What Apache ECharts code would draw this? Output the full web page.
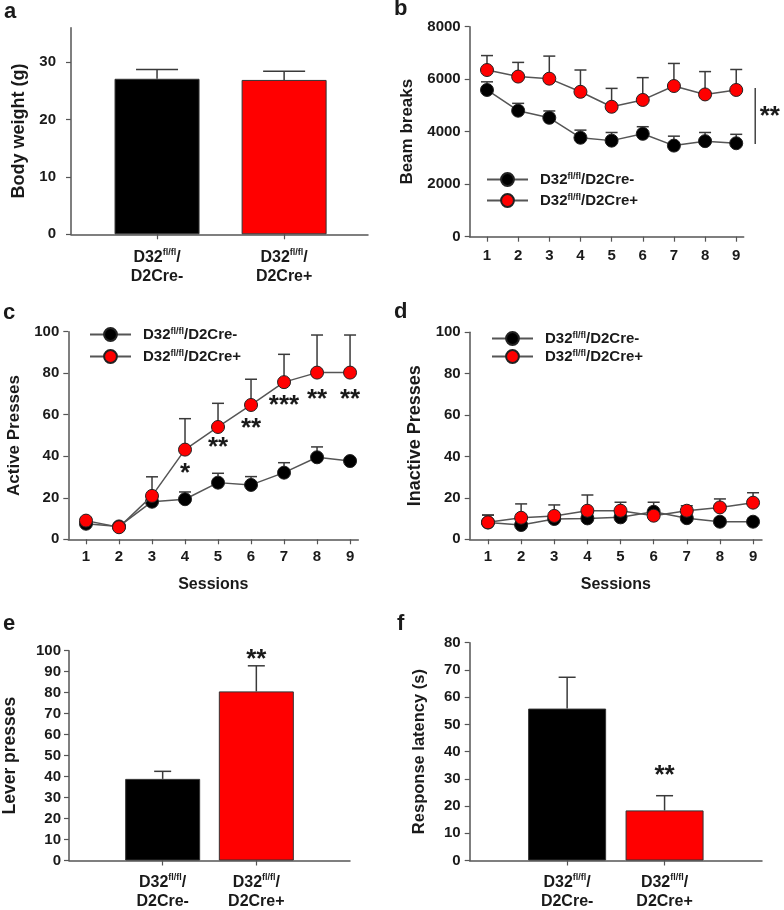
<!DOCTYPE html>
<html>
<head>
<meta charset="utf-8">
<script src="https://cdn.jsdelivr.net/npm/echarts@6/dist/echarts.min.js"></script>
<style>
  html, body { margin: 0; padding: 0; background: #fff; }
  #chart { width: 784px; height: 910px; }
</style>
</head>
<body>
<div id="chart"></div>
<script>
var dom = document.getElementById("chart");
var chart = echarts.init(dom);

// ---- data ----
var groupNames = ['D32fl/fl/D2Cre-', 'D32fl/fl/D2Cre+'];
var sessions = [1, 2, 3, 4, 5, 6, 7, 8, 9];
var barPositions = [1, 2];

// a: body weight (g)
var weightMean = [27.1, 26.9];
var weightSem = [1.6, 1.5];
var weightTicks = [0, 10, 20, 30];

// b: beam breaks
var beamNeg = [5590, 4800, 4530, 3770, 3660, 3920, 3470, 3640, 3560];
var beamNegSem = [310, 280, 260, 290, 310, 270, 360, 330, 340];
var beamPos = [6350, 6100, 6020, 5520, 4950, 5210, 5740, 5420, 5590];
var beamPosSem = [550, 540, 860, 830, 700, 850, 860, 870, 780];
var beamSigLine = [9.61, 3530, 5665];
var beamSigText = [10.08, 4700];

// c: active presses
var activeNeg = [7.5, 6.2, 18.1, 19.3, 27.3, 26.2, 32.1, 39.5, 37.7];
var activeNegSem = [1.2, 1.0, 1.5, 3.5, 4.5, 4.0, 4.8, 5.0, 1.2];
var activePos = [9.0, 5.8, 20.9, 43.2, 54.1, 64.7, 75.7, 80.3, 80.3];
var activePosSem = [1.0, 1.0, 9.2, 14.9, 11.4, 12.4, 13.4, 18.1, 18.1];
var starSessions = [4, 5, 6, 7, 8, 9];
var starHeights = [33.4, 45.9, 55.1, 66.3, 69.2, 69.2];
var starLabels = ['*', '**', '**', '***', '**', '**'];

// d: inactive presses
var inactiveNeg = [8.1, 6.9, 9.8, 10.1, 10.6, 13.3, 10.2, 8.5, 8.5];
var inactiveNegSem = [3.6, 1.5, 2.0, 2.0, 2.0, 4.6, 2.0, 1.5, 1.5];
var inactivePos = [8.2, 10.4, 11.3, 13.8, 13.8, 11.4, 13.8, 15.4, 17.7];
var inactivePosSem = [3.5, 6.7, 5.3, 7.6, 4.1, 2.0, 2.4, 4.1, 4.8];

// e: lever presses
var leverMean = [38.9, 80.6];
var leverSem = [3.6, 12.2];
var leverStar = [2, 97.5];

// f: response latency (s)
var latencyMean = [55.8, 18.4];
var latencySem = [11.5, 5.4];
var latencyStar = [2, 32.7];

var font = 'Liberation Sans, Arial, Helvetica, sans-serif';
var ink = '#1a1a1a';
var axisGrey = '#555';
var barColors = ['#000000', '#ff0000'];

var richText = {
  m: { fontSize: 16, fontWeight: 'bold', fontFamily: font, color: ink, lineHeight: 19 },
  s: { fontSize: 9, fontWeight: 'bold', fontFamily: font, color: ink, verticalAlign: 'top', lineHeight: 19 }
};
var legendRich = {
  m: { fontSize: 15, fontWeight: 'bold', fontFamily: font, color: ink },
  s: { fontSize: 9, fontWeight: 'bold', fontFamily: font, color: ink, verticalAlign: 'top', padding: [0, 0, 4, 0] }
};

function groupLabel(name) {
  return '{m|D32}{s|fl/fl}{m|' + name.replace('D32fl/fl', '') + '}';
}
function barLabel(i) {
  var tail = groupNames[i].replace('D32fl/fl/', '');
  return '{m|D32}{s|fl/fl}{m|/}\n{m|' + tail + '}';
}

function pairs(xs, ys) {
  return xs.map(function (x, i) { return [x, ys[i]]; });
}
function triples(xs, ys, es) {
  return xs.map(function (x, i) { return [x, ys[i], es[i]]; });
}

function yAxis(idx, min, max, interval, name, nameSize, gap, margin, ticks) {
  var ax = {
    type: 'value', gridIndex: idx, min: min, max: max, interval: interval,
    name: name, nameLocation: 'middle', nameGap: gap,
    nameTextStyle: { fontFamily: font, fontWeight: 'bold', fontSize: nameSize, color: ink },
    axisLine: { show: true, lineStyle: { color: axisGrey, width: 1.5 } },
    axisTick: { show: true, length: 5, lineStyle: { color: axisGrey, width: 1.2 } },
    axisLabel: {
      fontFamily: font, fontWeight: 'bold', fontSize: 15, color: ink, margin: margin,
      formatter: function (v) { return String(v); }
    },
    splitLine: { show: false }
  };
  if (ticks) {
    ax.axisTick.customValues = ticks;
    ax.axisLabel.customValues = ticks;
  }
  return ax;
}

function sessionAxis(idx, min, max, margin, withName) {
  return {
    type: 'value', gridIndex: idx, min: min, max: max,
    name: withName ? 'Sessions' : '', nameLocation: 'middle', nameGap: 37,
    nameTextStyle: { fontFamily: font, fontWeight: 'bold', fontSize: 16, color: ink },
    axisLine: { show: true, onZero: false, lineStyle: { color: axisGrey, width: 1.5 } },
    axisTick: { show: true, length: 5, customValues: sessions, lineStyle: { color: axisGrey, width: 1.2 } },
    axisLabel: { fontFamily: font, fontWeight: 'bold', fontSize: 15, color: ink, margin: margin, customValues: sessions },
    splitLine: { show: false }
  };
}

function groupAxis(idx, min, max, margin) {
  return {
    type: 'value', gridIndex: idx, min: min, max: max,
    axisLine: { show: true, onZero: false, lineStyle: { color: axisGrey, width: 1.5 } },
    axisTick: { show: true, length: 5, customValues: barPositions, lineStyle: { color: axisGrey, width: 1.2 } },
    axisLabel: {
      margin: margin, customValues: barPositions, rich: richText,
      formatter: function (v) { return barLabel(Math.round(v) - 1); }
    },
    splitLine: { show: false }
  };
}

function errorSeries(idx, data, capW, z) {
  return {
    type: 'custom', xAxisIndex: idx, yAxisIndex: idx, z: z, silent: true,
    encode: { x: 0, y: 1 },
    data: data,
    renderItem: function (params, api) {
      var x = api.value(0), m = api.value(1), e = api.value(2);
      var p0 = api.coord([x, m]);
      var p1 = api.coord([x, m + e]);
      var st = { stroke: '#3a3a3a', lineWidth: 1.5 };
      return {
        type: 'group', children: [
          { type: 'line', shape: { x1: p0[0], y1: p0[1], x2: p1[0], y2: p1[1] }, style: st },
          { type: 'line', shape: { x1: p1[0] - capW / 2, y1: p1[1], x2: p1[0] + capW / 2, y2: p1[1] }, style: st }
        ]
      };
    }
  };
}

function lineSeries(idx, name, ys, color, z) {
  return {
    type: 'line', name: name, xAxisIndex: idx, yAxisIndex: idx, z: z,
    data: pairs(sessions, ys),
    symbol: 'circle', symbolSize: 13,
    itemStyle: { color: color, borderColor: '#222', borderWidth: 1 },
    lineStyle: { color: '#555', width: 1.5 },
    emphasis: { disabled: true }
  };
}

function barSeries(idx, ys, width) {
  return {
    type: 'bar', xAxisIndex: idx, yAxisIndex: idx, z: 2,
    barWidth: width,
    data: ys.map(function (v, i) {
      return { value: [barPositions[i], v], itemStyle: { color: barColors[i], borderColor: '#333', borderWidth: 1 } };
    })
  };
}

function starSeries(idx, xs, ys, labels, size) {
  return {
    type: 'custom', xAxisIndex: idx, yAxisIndex: idx, z: 5, silent: true,
    encode: { x: 0, y: 1 },
    data: pairs(xs, ys),
    renderItem: function (params, api) {
      var p = api.coord([api.value(0), api.value(1)]);
      return {
        type: 'text', x: p[0], y: p[1] + size * 0.16,
        style: {
          text: labels[params.dataIndex], fill: ink, align: 'center', verticalAlign: 'middle',
          font: 'bold ' + size + 'px ' + font
        }
      };
    }
  };
}

function legend(left, top, gap) {
  return {
    left: left, top: top, padding: 0, orient: 'vertical', itemWidth: 41, itemHeight: 16, itemGap: gap,
    selectedMode: false, data: groupNames,
    textStyle: { padding: [0, 0, 0, 7], rich: legendRich },
    formatter: function (name) { return groupLabel(name); }
  };
}

function letter(t, x, y) {
  return { type: 'text', left: x, top: y, style: { text: t, font: 'bold 22px ' + font, fill: ink } };
}

var option = {
  animation: false,
  backgroundColor: '#fff',
  grid: [
    { left: 71, top: 27.7, width: 297, height: 206.6 },
    { left: 469.7, top: 26.7, width: 274, height: 210 },
    { left: 68.3, top: 331.7, width: 290, height: 207.6 },
    { left: 469.7, top: 332.3, width: 292.3, height: 207 },
    { left: 68.3, top: 650.7, width: 281.7, height: 211.6 },
    { left: 469.7, top: 642.7, width: 292.3, height: 220 }
  ],
  xAxis: [
    groupAxis(0, 0.323, 2.66, 14),
    sessionAxis(1, 0.445, 9.24, 12, false),
    sessionAxis(2, 0.464, 9.25, 10, true),
    sessionAxis(3, 0.448, 9.27, 10, true),
    groupAxis(4, 0, 3, 13),
    groupAxis(5, 0, 3, 13)
  ],
  yAxis: [
    yAxis(0, 0, 36, 10, 'Body weight (g)', 18, 43, 15, weightTicks),
    yAxis(1, 0, 8000, 2000, 'Beam breaks', 17, 54, 9),
    yAxis(2, 0, 100, 20, 'Active Presses', 17, 45, 9),
    yAxis(3, 0, 100, 20, 'Inactive Presses', 18, 46, 9),
    yAxis(4, 0, 100, 10, 'Lever presses', 17.5, 50, 8),
    yAxis(5, 0, 80, 10, 'Response latency (s)', 16.5, 42, 9)
  ],
  legend: [
    legend(486, 172, 6),
    legend(89, 327, 7),
    legend(491, 331, 3)
  ],
  graphic: [
    letter('a', 4, 1),
    letter('b', 394, -2),
    letter('c', 3, 302),
    letter('d', 394, 301),
    letter('e', 3, 613),
    letter('f', 397, 613)
  ],
  series: [
    // a
    errorSeries(0, triples(barPositions, weightMean, weightSem), 42, 1),
    barSeries(0, weightMean, 85),
    // b
    errorSeries(1, triples(sessions, beamNeg, beamNegSem), 12, 1),
    errorSeries(1, triples(sessions, beamPos, beamPosSem), 12, 1),
    lineSeries(1, groupNames[0], beamNeg, '#000000', 3),
    lineSeries(1, groupNames[1], beamPos, '#ff0000', 4),
    {
      type: 'custom', xAxisIndex: 1, yAxisIndex: 1, z: 5, silent: true, clip: false,
      encode: { x: 0, y: 1 },
      data: [beamSigLine],
      renderItem: function (params, api) {
        var p0 = api.coord([api.value(0), api.value(1)]);
        var p1 = api.coord([api.value(0), api.value(2)]);
        var t = api.coord(beamSigText);
        return {
          type: 'group', children: [
            { type: 'line', shape: { x1: p0[0], y1: p0[1], x2: p1[0], y2: p1[1] }, style: { stroke: '#444', lineWidth: 1.5 } },
            { type: 'text', x: t[0], y: t[1] + 4, style: { text: '**', fill: ink, align: 'center', verticalAlign: 'middle', font: 'bold 26px ' + font } }
          ]
        };
      }
    },
    // c
    errorSeries(2, triples(sessions, activeNeg, activeNegSem), 12, 1),
    errorSeries(2, triples(sessions, activePos, activePosSem), 12, 1),
    lineSeries(2, groupNames[0], activeNeg, '#000000', 3),
    lineSeries(2, groupNames[1], activePos, '#ff0000', 4),
    starSeries(2, starSessions, starHeights, starLabels, 26),
    // d
    errorSeries(3, triples(sessions, inactiveNeg, inactiveNegSem), 12, 1),
    errorSeries(3, triples(sessions, inactivePos, inactivePosSem), 12, 1),
    lineSeries(3, groupNames[0], inactiveNeg, '#000000', 3),
    lineSeries(3, groupNames[1], inactivePos, '#ff0000', 4),
    // e
    errorSeries(4, triples(barPositions, leverMean, leverSem), 17, 1),
    barSeries(4, leverMean, 75),
    starSeries(4, [leverStar[0]], [leverStar[1]], ['**'], 26),
    // f
    errorSeries(5, triples(barPositions, latencyMean, latencySem), 17, 1),
    barSeries(5, latencyMean, 78),
    starSeries(5, [latencyStar[0]], [latencyStar[1]], ['**'], 26)
  ]
};
chart.setOption(option);
</script>
</body>
</html>
